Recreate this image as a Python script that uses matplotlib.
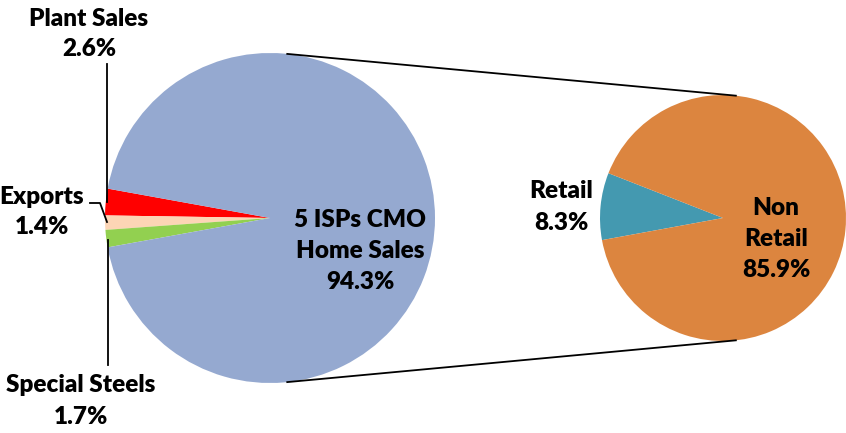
import numpy as np
import matplotlib.pyplot as plt

plt.rcParams['font.family'] = ['Lato', 'DejaVu Sans']

# main pie
main_labels = ["Plant Sales", "Exports", "Special Steels", "5 ISPs CMO\nHome Sales"]
main_values = [2.6, 1.4, 1.7, 94.3]
main_colors = ["#FF0000", "#FCD5B5", "#92D050", "#95A9D0"]

# breakdown of the big slice
sub_labels = ["Retail", "Non\nRetail"]
sub_values = [8.3, 85.9]
sub_colors = ["#4499B0", "#DC853F"]

W, H = 846, 433
fig = plt.figure(figsize=(W / 100, H / 100), dpi=100)
ax = fig.add_axes([0, 0, 1, 1])

c1, r1 = (270, 215), 165
c2, r2 = (723, 215), 123

small = sum(main_values[:3]) / sum(main_values) * 360
ax.pie(main_values, colors=main_colors, center=c1, radius=r1,
       startangle=180 - small / 2, counterclock=True, frame=True)
sub_span = sub_values[0] / sum(sub_values) * 360
ax.pie(sub_values, colors=sub_colors, center=c2, radius=r2,
       startangle=174.5 - sub_span / 2, counterclock=True, frame=True)
ax.set_xlim(0, W)
ax.set_ylim(0, H)
ax.set_aspect('equal')
ax.axis('off')

# connector lines between the pies
a = np.deg2rad(84)
for s in (1, -1):
    x0 = c1[0] + r1 * np.cos(a)
    y0 = c1[1] + s * r1 * np.sin(a)
    x1 = c2[0] + r2 * np.cos(a)
    y1 = c2[1] + s * r2 * np.sin(a)
    ax.plot([x0, x1], [y0, y1], color='black', lw=1.3)

def fy(y):
    return H - y

fs = 17.5
kw = dict(fontsize=fs, fontweight='heavy', ha='center', va='center', linespacing=1.5)

pct = [f"{v:.1f}%" for v in main_values]
ax.text(89, fy(34), f"{main_labels[0]}\n{pct[0]}", **kw)
ax.text(42, fy(212), f"{main_labels[1]}\n{pct[1]}", **kw)
ax.text(81, fy(401), f"{main_labels[2]}\n{pct[2]}", **kw)
ax.text(360, fy(251), f"{main_labels[3]}\n{pct[3]}", **kw)

sp = [f"{v:.1f}%" for v in sub_values]
ax.text(561, fy(207), f"{sub_labels[0]}\n{sp[0]}", **kw)
ax.text(776, fy(239), f"{sub_labels[1]}\n{sp[1]}", **kw)

# leader lines
ax.plot([107, 107], [fy(64), fy(202)], color='black', lw=1.3)
ax.plot([90, 100, 107], [fy(203), fy(203), fy(222)], color='black', lw=1.3)
ax.plot([108, 108], [fy(240), fy(365)], color='black', lw=1.3)

fig.savefig("out.png", dpi=100)
